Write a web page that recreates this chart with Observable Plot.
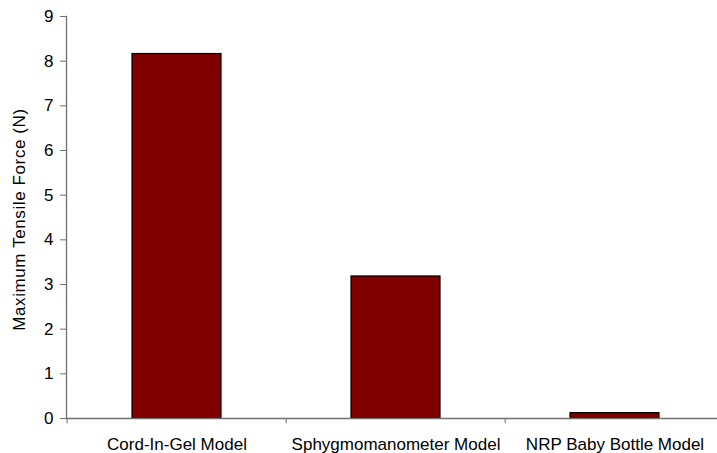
<!DOCTYPE html>
<html><head><meta charset="utf-8">
<script src="https://cdn.jsdelivr.net/npm/d3@7"></script>
<script src="https://cdn.jsdelivr.net/npm/@observablehq/plot@0.6"></script>
<style>body{margin:0;background:#fff;overflow:hidden}</style>
</head><body><div id="chart"></div>
<script>
const categories = ["Cord-In-Gel Model", "Sphygmomanometer Model", "NRP Baby Bottle Model"];
const values = [8.16, 3.18, 0.12];
const yTicks = [0, 1, 2, 3, 4, 5, 6, 7, 8, 9];
const yLabel = "Maximum Tensile Force (N)";

const data = categories.map((c, i) => ({category: c, value: values[i]}));
const x0 = 66, x1 = 725;
const step = (x1 - x0) / categories.length;
const font = "Liberation Sans, Arial, sans-serif";

const plot = Plot.plot({
  width: 717,
  height: 453,
  marginLeft: 66,
  marginRight: 0,
  marginTop: 16,
  marginBottom: 35,
  style: {fontFamily: font, background: "#fff", color: "#000"},
  x: {domain: categories, range: [x0, x1], paddingInner: 0.595, paddingOuter: 0.2975},
  y: {domain: [0, 9]},
  marks: [
    Plot.barY(data, {x: "category", y: "value", fill: "#800000", stroke: "#000", strokeWidth: 1.2}),
    Plot.ruleY([0], {stroke: "#707070", strokeWidth: 1.3}),
    Plot.frame({anchor: "left", stroke: "#707070", strokeWidth: 1.3}),
    Plot.ruleX(categories, {x: d => d, y1: 0, y2: -0.12, dx: -step / 2, stroke: "#707070"}),
    Plot.axisY({ticks: yTicks, tickSize: 6, tickPadding: 7, fontSize: 17, stroke: "#707070", label: null, tickFormat: d => String(d)}),
    Plot.axisX({tickSize: 0, tickPadding: 19, fontSize: 17, label: null}),
    Plot.text([yLabel], {frameAnchor: "left", textAnchor: "middle", dx: -47, dy: 2, rotate: -90, fontSize: 17, text: d => d, fill: "#000"})
  ]
});
plot.querySelectorAll("[aria-label='y-axis tick label'] text, [aria-label='x-axis tick label'] text").forEach(t => t.setAttribute("fill", "#000"));
plot.querySelectorAll("[aria-label='text'] text").forEach(t => t.style.letterSpacing = "0.6px");
document.getElementById("chart").appendChild(plot);
</script>
</body></html>
